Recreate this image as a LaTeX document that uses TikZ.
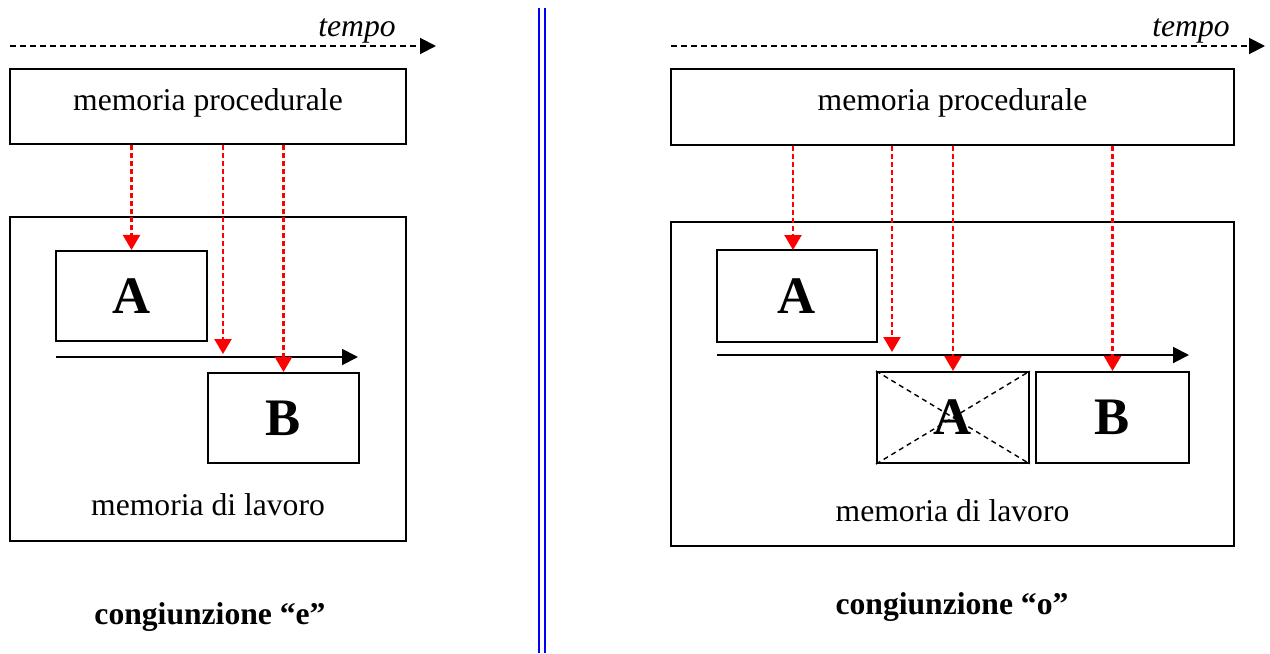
\documentclass[tikz,border=0pt]{standalone}
\usepackage{fontspec}
\setmainfont{Liberation Serif}
\usetikzlibrary{positioning,arrows.meta}
\definecolor{trig}{HTML}{FF0000}
\definecolor{sep}{HTML}{0000FF}
\tikzset{
  mem/.style={draw=black, line width=1.2pt, inner sep=0pt, align=center,
              font=\fontsize{18}{21}\selectfont},
  chunk/.style={draw=black, line width=1.2pt, inner sep=0pt,
                font=\fontsize{30}{32}\selectfont\bfseries},
  lbl/.style={font=\fontsize{18}{21}\selectfont, inner sep=0pt},
  tlbl/.style={font=\fontsize{18}{21}\selectfont\itshape, inner sep=0pt},
  caption/.style={font=\fontsize{18}{21}\selectfont\bfseries, inner sep=0pt},
  tempoarr/.style={-{Triangle[length=0.32cm,width=0.32cm]}, line width=1.1pt,
                   dash pattern=on 0.12cm off 0.08cm},
  tline/.style={-{Triangle[length=0.32cm,width=0.32cm]}, line width=1.1pt},
  fire/.style={-{Triangle[length=0.3cm,width=0.34cm]}, draw=trig, line width=1.3pt,
               dash pattern=on 0.1cm off 0.06cm},
  cross/.style={line width=0.8pt, dash pattern=on 0.1cm off 0.08cm},
}

\begin{document}
\begin{tikzpicture}[x=0.02cm, y=-0.02cm]
\useasboundingbox (0,0) rectangle (1270,653);

% ---- congiunzione "e" ----
\coordinate (t0L) at (10,46);
\coordinate (t1L) at (436,46);
\draw[tempoarr] (t0L) -- (t1L);
\node[tlbl] (tempoL) at (357,31) {tempo};
\node[mem, minimum width=7.92cm, minimum height=1.5cm,
      label={[lbl, anchor=center, yshift=0.08cm]center:memoria procedurale}] (procL) at (208,106.5) {};
\node[mem, minimum width=7.92cm, minimum height=6.48cm,
      label={[lbl, anchor=center, yshift=0.74cm]south:memoria di lavoro}] (lavL) at (208,379) {};
\node[chunk, minimum width=3.02cm, minimum height=1.8cm] (AL) at (131.5,296) {A};
\node[chunk, minimum width=3.02cm, minimum height=1.8cm] (BL) at (283.5,418) {B};
\coordinate (s0L) at (56,357);
\coordinate (s1L) at (358,357);
\draw[tline] (s0L) -- (s1L);
\coordinate (hitL) at (223,354);
\draw[fire] (procL.south -| AL.north) -- (AL.north);
\draw[fire] (procL.south -| hitL) -- (hitL);
\draw[fire] (procL.south -| BL.north) -- (BL.north);
\node[caption] (capL) at (210,617) {congiunzione “e”};

% separator
\coordinate (sepT) at (542,8);
\coordinate (sepB) at (542,653);
\draw[draw=sep, double=white, double distance=0.07cm, line width=0.05cm] (sepT) -- (sepB);

% ---- congiunzione "o" ----
\coordinate (t0R) at (671,46);
\coordinate (t1R) at (1265,46);
\draw[tempoarr] (t0R) -- (t1R);
\node[tlbl] (tempoR) at (1191,31) {tempo};
\node[mem, minimum width=11.26cm, minimum height=1.52cm,
      label={[lbl, anchor=center, yshift=0.08cm]center:memoria procedurale}] (procR) at (952.5,107) {};
\node[mem, minimum width=11.26cm, minimum height=6.48cm,
      label={[lbl, anchor=center, yshift=0.72cm]south:memoria di lavoro}] (lavR) at (952.5,384) {};
\node[chunk, minimum width=3.2cm, minimum height=1.84cm] (AR) at (797,296) {A};
\node[chunk, minimum width=3.04cm, minimum height=1.82cm] (XR) at (953,417.5) {A};
\draw[cross] (XR.north west) -- (XR.south east);
\draw[cross] (XR.south west) -- (XR.north east);
\node[chunk, minimum width=3.06cm, minimum height=1.82cm] (BR) at (1112.5,417.5) {B};
\coordinate (s0R) at (717,355);
\coordinate (s1R) at (1189,355);
\draw[tline] (s0R) -- (s1R);
\coordinate (hitR1) at (793,250);
\coordinate (hitR2) at (892,352);
\draw[fire] (procR.south -| hitR1) -- (hitR1);
\draw[fire] (procR.south -| hitR2) -- (hitR2);
\draw[fire] (procR.south -| XR.north) -- (XR.north);
\draw[fire] (procR.south -| BR.north) -- (BR.north);
\node[caption] (capR) at (952,607) {congiunzione “o”};
\end{tikzpicture}
\end{document}
